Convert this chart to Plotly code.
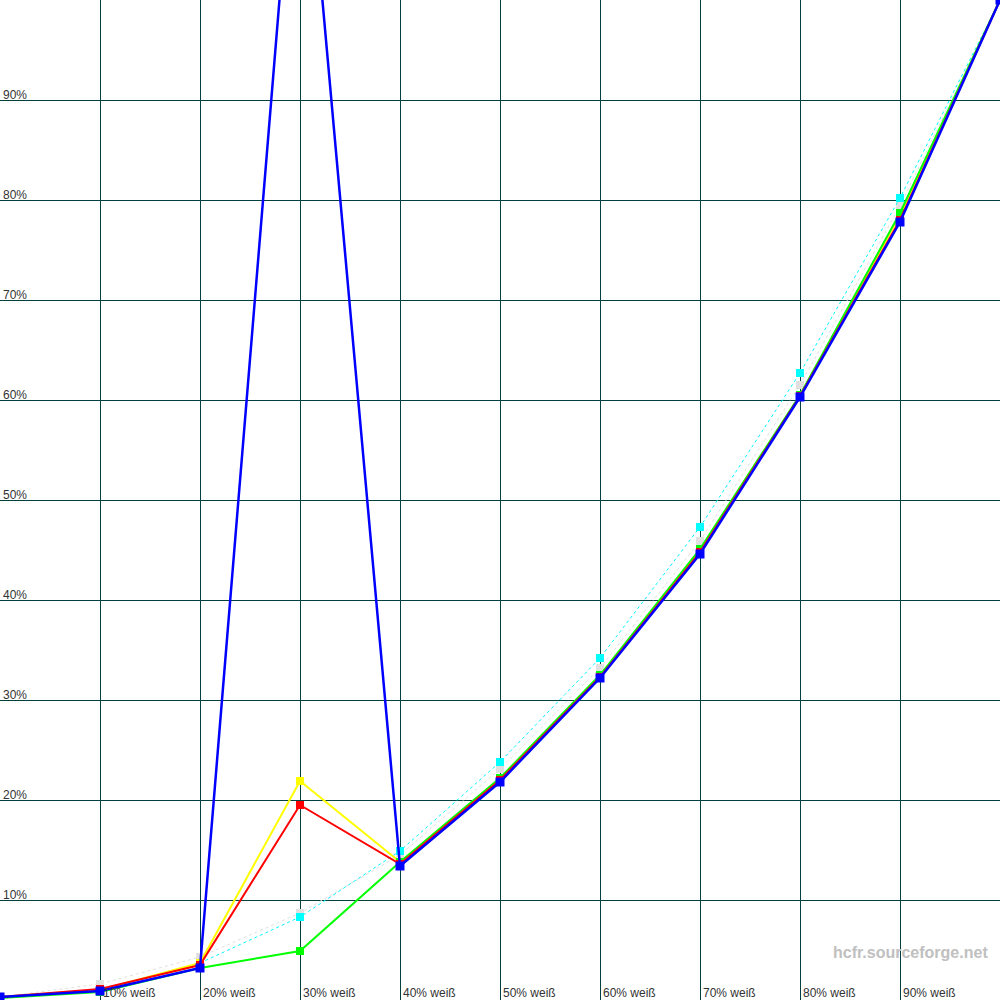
import plotly.graph_objects as go

x_vals = [0, 10, 20, 30, 40, 50, 60, 70, 80, 90, 100]
ref_gray = [0.3, 1.6, 4.3, 8.7, 14.5, 23.1, 33.2, 45.9, 61.5, 79.4, 100]
cyan_y = [0.2, 0.9, 3.7, 8.3, 14.9, 23.8, 34.2, 47.3, 62.7, 80.2, 100]
yellow_y = [0.3, 1.0, 3.7, 21.9, 13.8, 22.0, 32.4, 45.0, 60.4, 78.5, 100]
green_y = [0.2, 0.8, 3.2, 4.9, 13.8, 22.2, 32.5, 45.1, 60.5, 78.7, 100]
red_y = [0.3, 1.1, 3.5, 19.5, 13.6, 22.0, 32.3, 44.8, 60.4, 78.0, 100]
blue_y = [0.3, 0.9, 3.2, 125.0, 13.4, 21.8, 32.2, 44.6, 60.3, 77.8, 100]

x_tick_vals = [10, 20, 30, 40, 50, 60, 70, 80, 90]
x_tick_labels = ["10% weiß", "20% weiß", "30% weiß", "40% weiß", "50% weiß",
                 "60% weiß", "70% weiß", "80% weiß", "90% weiß"]
y_tick_vals = [10, 20, 30, 40, 50, 60, 70, 80, 90]
y_tick_labels = ["10%", "20%", "30%", "40%", "50%", "60%", "70%", "80%", "90%"]

fig = go.Figure()

def add(y, color, width, dash, msize):
    fig.add_trace(go.Scatter(
        x=x_vals, y=y, mode="lines+markers",
        line=dict(color=color, width=width, dash=dash),
        marker=dict(symbol="square", size=msize, color=color, line=dict(width=0)),
        showlegend=False, hoverinfo="skip"))

add(ref_gray, "#e0e0e0", 1, "dot", 8)
add(cyan_y, "#00ffff", 1, "dot", 8)
add(yellow_y, "#ffff00", 2, "solid", 8)
add(green_y, "#00ff00", 2, "solid", 8)
add(red_y, "#ff0000", 2, "solid", 8)
add(blue_y, "#0000ff", 2.5, "solid", 9)

grid_color = "#004040"
label_font = dict(family="Liberation Sans", size=12, color="#333333")
annotations = []
for v, t in zip(x_tick_vals, x_tick_labels):
    annotations.append(dict(x=v, y=0, xref="x", yref="y", text=t, showarrow=False,
                            xanchor="left", yanchor="bottom", xshift=1, yshift=-2,
                            font=label_font))
for v, t in zip(y_tick_vals, y_tick_labels):
    annotations.append(dict(x=0, y=v, xref="x", yref="y", text=t, showarrow=False,
                            xanchor="left", yanchor="bottom", xshift=1, yshift=-4,
                            font=label_font))
annotations.append(dict(x=0.99, y=0.048, xref="paper", yref="paper",
                        text="<b>hcfr.sourceforge.net</b>", showarrow=False,
                        xanchor="right", yanchor="middle",
                        font=dict(family="Liberation Sans", size=16, color="#c0c0c0")))

fig.update_layout(
    width=1000, height=1000,
    margin=dict(l=0, r=0, t=0, b=0),
    paper_bgcolor="white", plot_bgcolor="white",
    xaxis=dict(range=[0, 100], tickvals=list(range(0, 101, 10)), showticklabels=False,
               showgrid=True, gridcolor=grid_color, gridwidth=1, zeroline=False,
               showline=False, fixedrange=True),
    yaxis=dict(range=[0, 100], tickvals=list(range(0, 101, 10)), showticklabels=False,
               showgrid=True, gridcolor=grid_color, gridwidth=1, zeroline=False,
               showline=False, fixedrange=True),
    annotations=annotations,
)

fig.write_html("out.html", config={"displayModeBar": False},
               post_script="document.body.style.margin='0';document.body.style.overflow='hidden';")
